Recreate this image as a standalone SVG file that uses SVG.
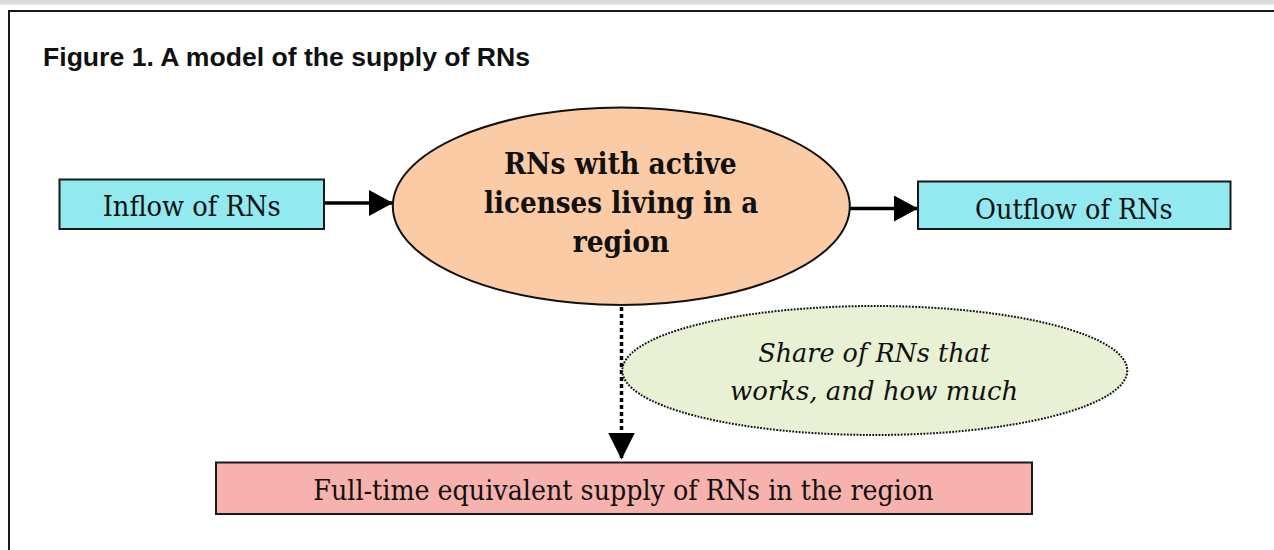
<svg xmlns="http://www.w3.org/2000/svg" width="1274" height="550" viewBox="0 0 1274 550">
  <style>
    .title { font-family: "Liberation Sans", Arial, sans-serif; font-weight: bold; font-size: 25px; fill: #111; }
    .serif { font-family: "DejaVu Serif", "Liberation Serif", serif; fill: #111; }
    .box { stroke: #1a1a1a; stroke-width: 2; }
    .conn { stroke: #000; stroke-width: 3.5; fill: none; }
  </style>
  <defs>
    <marker id="arrow" viewBox="0 0 24 26" refX="24" refY="13" markerWidth="24" markerHeight="26" markerUnits="userSpaceOnUse" orient="auto">
      <path d="M0,0 L24,13 L0,26 Z" fill="#000"/>
    </marker>
    <marker id="arrowDown" viewBox="0 0 27 28" refX="27" refY="13.5" markerWidth="27" markerHeight="28" markerUnits="userSpaceOnUse" orient="auto">
      <path d="M0,0 L27,13.5 L0,27 Z" fill="#000"/>
    </marker>
  </defs>
  <rect x="0" y="0" width="1274" height="550" fill="#ffffff"/>
  <rect x="0" y="0" width="1274" height="4.5" fill="#dcdcdc"/>
  <path d="M9,550 L9,11 L1274,11" fill="none" stroke="#1a1a1a" stroke-width="2"/>

  <g id="title">
    <text class="title" x="43" y="66" textLength="487" lengthAdjust="spacingAndGlyphs">Figure 1. A model of the supply of RNs</text>
  </g>

  <g id="connectors">
    <line class="conn" x1="324" y1="203" x2="393" y2="203" marker-end="url(#arrow)"/>
    <line class="conn" x1="849" y1="208.5" x2="918" y2="208.5" marker-end="url(#arrow)"/>
    <line class="conn" x1="621.5" y1="307" x2="621.5" y2="459.5" stroke-width="4" stroke-dasharray="4 3" marker-end="url(#arrowDown)"/>
  </g>

  <g id="inflow">
    <rect class="box" x="59.5" y="179.5" width="264.5" height="49.5" fill="#92e9ef"/>
    <text class="serif" x="102.7" y="216" font-size="27" textLength="178" lengthAdjust="spacingAndGlyphs">Inflow of RNs</text>
  </g>

  <g id="stock">
    <ellipse cx="621.3" cy="206.2" rx="228.5" ry="98.8" fill="#fbcba6" stroke="#111" stroke-width="2"/>
    <text class="serif" font-weight="bold" font-size="29">
      <tspan x="504" y="174" textLength="232.7" lengthAdjust="spacingAndGlyphs">RNs with active</tspan>
      <tspan x="484" y="213.3" textLength="274.3" lengthAdjust="spacingAndGlyphs">licenses living in a</tspan>
      <tspan x="572.7" y="251.7" textLength="96.6" lengthAdjust="spacingAndGlyphs">region</tspan>
    </text>
  </g>

  <g id="outflow">
    <rect class="box" x="918" y="181.5" width="312.5" height="47.5" fill="#92e9ef"/>
    <text class="serif" x="975" y="219" font-size="27" textLength="197.7" lengthAdjust="spacingAndGlyphs">Outflow of RNs</text>
  </g>

  <g id="share">
    <ellipse cx="874.8" cy="370.5" rx="252.5" ry="64.5" fill="#e8f1d4" stroke="#111" stroke-width="2" stroke-dasharray="1.8 1.4"/>
    <text class="serif" font-style="italic" font-size="26">
      <tspan x="758.3" y="361.7" textLength="231.7" lengthAdjust="spacingAndGlyphs">Share of RNs that</tspan>
      <tspan x="730" y="400" textLength="288.3" lengthAdjust="spacingAndGlyphs">works, and how much</tspan>
    </text>
  </g>

  <g id="fte">
    <rect class="box" x="216" y="462.5" width="816" height="51.5" fill="#f8b2ad"/>
    <text class="serif" x="313.3" y="500" font-size="27" textLength="620.3" lengthAdjust="spacingAndGlyphs">Full-time equivalent supply of RNs in the region</text>
  </g>
</svg>
